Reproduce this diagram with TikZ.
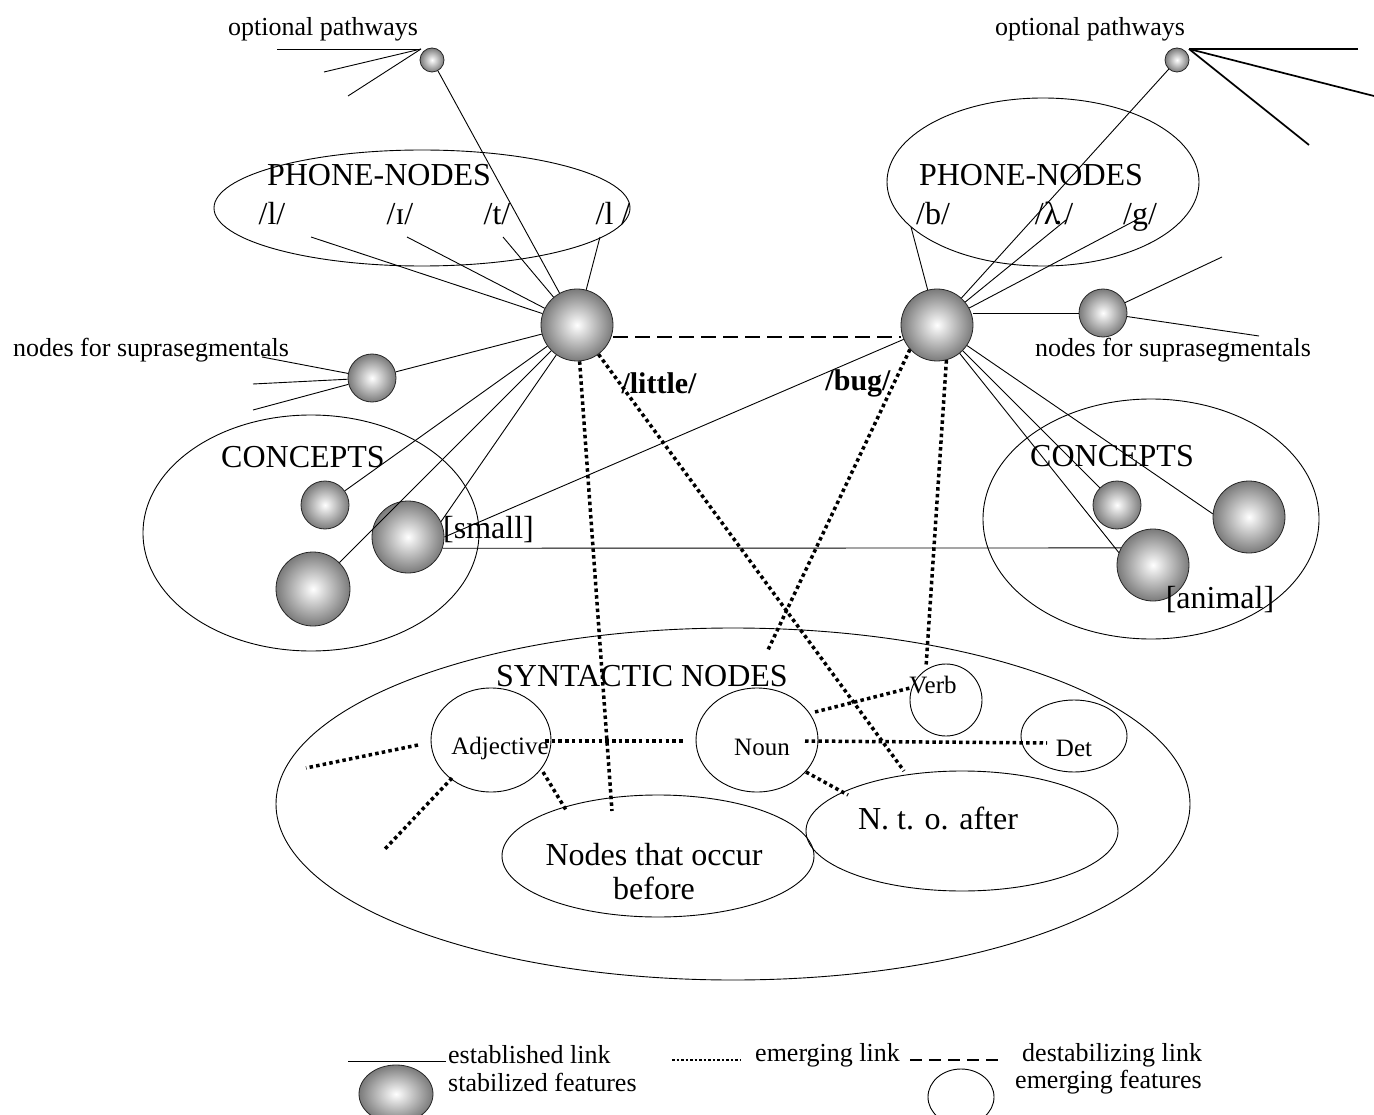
\documentclass[tikz,border=0pt]{standalone}
\usepackage{fontspec}
\setmainfont{Liberation Serif}
\usetikzlibrary{shapes.geometric}
\begin{document}
\begin{tikzpicture}[x=1pt,y=-1pt,
  sphere/.style={circle, draw=black!85, line width=0.8pt, inner sep=0pt, inner color=white, outer color=black!52},
  region/.style={ellipse, draw, line width=0.9pt, inner sep=0pt},
  lbl/.style={font=\fontsize{26}{30}\selectfont, inner sep=0pt},
  big/.style={font=\fontsize{32}{36}\selectfont, inner sep=0pt},
  phon/.style={font=\fontsize{32}{36}\selectfont, inner sep=0pt, anchor=base},
  synl/.style={font=\fontsize{25}{28}\selectfont, inner sep=0pt},
  bold/.style={font=\fontsize{30}{34}\selectfont\bfseries, inner sep=0pt},
  estab/.style={line width=0.9pt},
  thick estab/.style={line width=1.7pt},
  emerg/.style={line width=3.5pt, dash pattern=on 3.5pt off 3.2pt},
  destab/.style={line width=2pt, dash pattern=on 15pt off 7pt}]
\clip (0,0) rectangle (1374,1115);
\fill[white] (0,0) rectangle (1374,1115);

% regions
\node[region, minimum width=416pt, minimum height=116pt] (phL) at (422,208) {};
\node[region, minimum width=312pt, minimum height=168pt] (phR) at (1043,182) {};
\node[region, minimum width=336pt, minimum height=236pt] (coL) at (311,533) {};
\node[region, minimum width=336pt, minimum height=240pt] (coR) at (1151,519) {};
\node[region, minimum width=914pt, minimum height=352pt] (syn) at (733,804) {};
\node[region, minimum width=120pt, minimum height=104pt] (adj) at (491,740) {};
\node[region, minimum width=122pt, minimum height=104pt] (noun) at (757,740) {};
\node[region, minimum width=72pt, minimum height=72pt] (verb) at (946,700) {};
\node[region, minimum width=106pt, minimum height=72pt] (det) at (1074,736) {};
\node[region, minimum width=312pt, minimum height=122pt] (before) at (658,856) {};
\node[region, minimum width=312pt, minimum height=120pt] (after) at (962,831) {};

% spheres
\node[sphere, minimum size=24pt] (oL) at (432,60) {};
\node[sphere, minimum size=24pt] (oR) at (1177,60) {};
\node[sphere, minimum size=72pt] (L) at (577,325) {};
\node[sphere, minimum size=72pt] (R) at (937,325) {};
\node[sphere, minimum size=48pt] (sL) at (372,378) {};
\node[sphere, minimum size=48pt] (sR) at (1103,313) {};
\node[sphere, minimum size=48pt] (cL1) at (325,505) {};
\node[sphere, minimum size=72pt] (cL2) at (408,537) {};
\node[sphere, minimum size=74pt] (cL3) at (313,589) {};
\node[sphere, minimum size=48pt] (cR1) at (1117,505) {};
\node[sphere, minimum size=72pt] (cR2) at (1153,565) {};
\node[sphere, minimum size=72pt] (cR3) at (1249,517) {};

% texts
\node[lbl] (toptL) at (323,29) {optional pathways};
\node[lbl] (toptR) at (1090,29) {optional pathways};
\node[big] (tphL) at (379,175) {PHONE-NODES};
\node[big] (tphR) at (1031,175) {PHONE-NODES};
\node[phon] (p1) at (272,225) {/l/};
\node[phon] (p2) at (400,225) {/ɪ/};
\node[phon] (p3) at (497,225) {/t/};
\node[phon] (p4) at (613,225) {/l /};
\node[phon] (q1) at (933,225) {/b/};
\node[phon] (q2) at (1054,225) {/λ\kern-5pt.\kern2pt/};
\node[phon] (q3) at (1140,225) {/g/};
\node[lbl] (tsL) at (151,350) {nodes for suprasegmentals};
\node[lbl] (tsR) at (1173,350) {nodes for suprasegmentals};
\node[bold] (little) at (659,383) {/little/};
\node[bold] (bug) at (858,383) {/bug/};
\node[big] (tcL) at (303,457) {CONCEPTS};
\node[big] (tcR) at (1112,456) {CONCEPTS};
\node[big, anchor=west] (small) at (443,530) {[small]};
\node[big] (animal) at (1220,600) {[animal]};
\node[big] (tsyn) at (642,676) {SYNTACTIC NODES};
\node[synl] (tadj) at (500,748) {Adjective};
\node[synl] (tnoun) at (762,747) {Noun};
\node[synl] (tverb) at (933,685) {Verb};
\node[synl] (tdet) at (1074,748) {Det};
\node[big, align=center] (tbefore) at (654,872) {Nodes that occur\\[-2pt]before};
\node[big] (tafter) at (938,818) {N. t. o. after};

% free ends
\coordinate (oa1) at (277,49);
\coordinate (oa2) at (324,72);
\coordinate (oa3) at (348,96);
\coordinate (ob1) at (1358,49);
\coordinate (ob2) at (1374,96);
\coordinate (ob3) at (1309,145);
\coordinate (a1) at (311,237);
\coordinate (a2) at (407,237);
\coordinate (a3) at (503,237);
\coordinate (a4) at (600,237);
\coordinate (b1) at (911,227);
\coordinate (b2) at (1066,220);
\coordinate (b3) at (1140,218);
\coordinate (s1) at (262,357);
\coordinate (s2) at (253,384);
\coordinate (s3) at (253,410);
\coordinate (r1) at (1222,257);
\coordinate (r2) at (1259,336);
\coordinate (d1) at (612,811);
\coordinate (d2) at (904,771);
\coordinate (d3) at (767,652);
\coordinate (d4) at (926,667);
\coordinate (e1a) at (545,741);
\coordinate (e1b) at (683,741);
\coordinate (e2a) at (805,741);
\coordinate (e2b) at (1047,743);
\coordinate (e3a) at (806,772);
\coordinate (e3b) at (848,795);
\coordinate (e4a) at (543,772);
\coordinate (e4b) at (566,810);
\coordinate (e5a) at (418,745);
\coordinate (e5b) at (306,768);
\coordinate (e6a) at (452,778);
\coordinate (e6b) at (384,850);
\coordinate (e7a) at (815,712);
\coordinate (e7b) at (910,688);

% established links
\foreach \c in {oa1,oa2,oa3} \draw[estab] (\c) -- (421,49);
\foreach \c in {ob1,ob2,ob3} \draw[thick estab] (\c) -- (1189,49);
\draw[estab] (oL) -- (L);
\draw[estab] (oR) -- (R);
\foreach \c in {a1,a2,a3,a4} \draw[estab] (\c) -- (L);
\foreach \c in {b1,b2,b3} \draw[estab] (\c) -- (R);
\foreach \c in {s1,s2,s3} \draw[estab] (\c) -- (sL);
\draw[estab] (sL) -- (L);
\draw[estab] (sR.west -| R.east) -- (sR.west);
\draw[estab] (sR) -- (r1);
\draw[estab] (sR) -- (r2);
\draw[estab] (L) -- (cL1);
\draw[estab] (L) -- (cL3);
\draw[estab] (L) -- (cL2.25);
\draw[estab] (cL2.east) -- (R);
\draw[estab] (cL2.-18) -- (cR2.152);
\draw[estab] (R) -- (cR1);
\draw[estab] (R) -- (cR2.160);
\draw[estab] (R) -- (cR3.175);

% destabilizing
\draw[destab] (L.east |- 0,337) -- (R.west |- 0,337);

% emerging links
\draw[emerg] (L) -- (d1);
\draw[emerg] (L) -- (d2);
\draw[emerg] (R.222) -- (d3);
\draw[emerg] (R.-75) -- (d4);
\draw[emerg] (e1a) -- (e1b);
\draw[emerg] (e2a) -- (e2b);
\draw[emerg] (e3a) -- (e3b);
\draw[emerg] (e4a) -- (e4b);
\draw[emerg] (e5a) -- (e5b);
\draw[emerg] (e6a) -- (e6b);
\draw[emerg] (e7a) -- (e7b);

% legend
\coordinate (l1a) at (348,1061);
\coordinate (l1b) at (446,1061);
\coordinate (l2a) at (672,1060);
\coordinate (l2b) at (741,1060);
\coordinate (l3a) at (910,1060);
\coordinate (l3b) at (1003,1060);
\draw[estab] (l1a) -- (l1b);
\draw[line width=2.5pt, dash pattern=on 2.5pt off 2pt] (l2a) -- (l2b);
\draw[line width=1.6pt, dash pattern=on 12pt off 7pt] (l3a) -- (l3b);
\node[lbl, anchor=west] (leg1) at (448,1055) {established link};
\node[lbl, anchor=west] (leg2) at (755,1055) {emerging link};
\node[lbl, anchor=west] (leg3) at (1022,1055) {destabilizing link};
\node[lbl, anchor=west] (leg4) at (448,1082) {stabilized features};
\node[lbl, anchor=west] (leg5) at (1015,1082) {emerging features};
\node[ellipse, draw=black!85, line width=0.8pt, inner sep=0pt, inner color=white, outer color=black!52, minimum width=74pt, minimum height=58pt] (legS) at (396,1094) {};
\node[region, minimum width=66pt, minimum height=56pt] (legE) at (961,1097) {};
\end{tikzpicture}
\end{document}
